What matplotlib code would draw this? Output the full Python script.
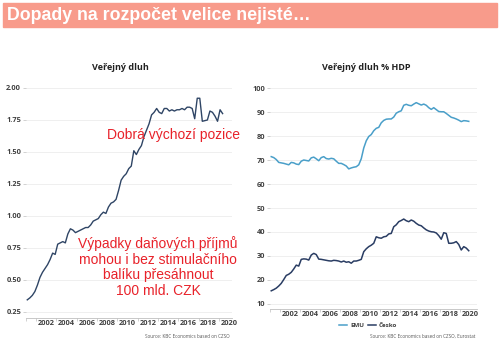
import numpy as np
import matplotlib.pyplot as plt
from matplotlib.patches import Rectangle

# Quarterly observations, 2000Q1 onwards (plotted at mid-quarter)
dluh_bil = [0.345, 0.36, 0.38, 0.41,
            0.46, 0.52, 0.56, 0.59,
            0.62, 0.66, 0.71, 0.70,
            0.78, 0.79, 0.80, 0.79,
            0.86, 0.90, 0.89, 0.87,
            0.88, 0.89, 0.90, 0.91,
            0.91, 0.93, 0.96, 0.97,
            0.98, 1.01, 1.03, 1.02,
            1.07, 1.10, 1.11, 1.13,
            1.20, 1.28, 1.31, 1.33,
            1.37, 1.39, 1.51, 1.48,
            1.52, 1.55, 1.62, 1.67,
            1.72, 1.79, 1.81, 1.84,
            1.81, 1.80, 1.84, 1.84,
            1.82, 1.83, 1.82, 1.83,
            1.83, 1.84, 1.83, 1.85,
            1.85, 1.84, 1.76, 1.92,
            1.92, 1.74, 1.745, 1.75,
            1.82, 1.81, 1.78, 1.74,
            1.83, 1.80]

emu = [71.4, 71.0, 70.2, 69.0,
       68.8, 68.6, 68.3, 68.0,
       69.0, 68.8, 68.3, 68.1,
       69.5, 70.0, 69.8, 69.6,
       70.9, 71.2, 70.5, 69.7,
       71.0, 71.4, 70.6, 70.4,
       70.7, 70.5, 69.5, 68.6,
       68.6, 68.1, 67.5, 66.3,
       66.7, 67.0, 67.2, 68.0,
       70.5, 75.0, 78.0, 79.8,
       80.6, 82.2, 83.2, 83.6,
       85.5, 86.5, 87.0, 87.1,
       87.1, 87.9, 89.5, 90.1,
       90.5, 92.8, 93.2, 92.8,
       92.6, 93.3, 93.9, 93.4,
       92.9, 93.3, 92.8, 91.8,
       91.1, 91.8, 91.0, 90.2,
       90.1, 90.1, 89.4, 88.6,
       87.8, 87.5, 87.1, 86.6,
       86.0, 86.4, 86.3, 86.1]

cesko = [15.5, 16.0, 16.6, 17.5,
         18.6, 20.2, 21.9, 22.4,
         23.2, 24.6, 26.2, 25.8,
         28.6, 28.8, 28.7, 28.3,
         30.4, 31.1, 30.6, 28.7,
         28.6, 28.4, 28.2, 28.0,
         27.9, 28.2, 28.1, 27.9,
         27.5, 27.9, 27.4, 27.6,
         27.0, 27.9, 27.9, 28.2,
         28.6, 31.8, 33.0, 33.9,
         34.5, 35.3, 38.0, 37.6,
         37.4, 38.0, 38.2, 39.2,
         39.4, 42.2, 43.0, 44.3,
         44.8, 45.4, 44.7, 44.3,
         45.0, 44.5, 43.6, 42.9,
         42.6, 41.7, 40.9, 40.4,
         40.1, 40.0, 39.6, 38.5,
         37.0, 39.7, 39.4, 35.3,
         35.3, 35.5, 36.0, 34.8,
         32.5, 33.9, 33.3, 32.2]

roky = list(range(2002, 2021, 2))
left_yticks = [0.25, 0.50, 0.75, 1.00, 1.25, 1.50, 1.75, 2.00]
right_yticks = [10, 20, 30, 40, 50, 60, 70, 80, 90, 100]

q_left = 2000.125 + 0.25 * np.arange(len(dluh_bil))
q_right = 2000.125 + 0.25 * np.arange(len(emu))

tick_font = 'Open Sans'
red = '#E8222A'

fig = plt.figure(figsize=(5, 3.41), dpi=100)

# header bar
fig.patches.append(Rectangle((3 / 500, 1 - 27 / 341), 494 / 500, 24 / 341,
                             transform=fig.transFigure, color='#F89B8B', zorder=0))
fig.text(7 / 500, 1 - 15.5 / 341, 'Dopady na rozpočet velice nejisté…', color='white',
         fontsize=12.8, fontweight='bold', family='Liberation Sans', va='center', ha='left')


def style_axes(ax, yticks, fmt):
    ax.set_yticks(yticks)
    ax.set_yticklabels([fmt.format(v) for v in yticks])
    ax.set_xticks(roky)
    ax.set_xticks(range(2000, 2021), minor=True)
    for s in ['top', 'right', 'left']:
        ax.spines[s].set_visible(False)
    ax.spines['bottom'].set_color('#BFBFBF')
    ax.spines['bottom'].set_linewidth(0.6)
    ax.grid(axis='y', color='#EDEDED', linewidth=0.6)
    ax.set_axisbelow(True)
    ax.tick_params(axis='y', length=2, width=0.5, color='#BFBFBF', pad=1.5)
    ax.tick_params(axis='x', which='both', length=2, width=0.5, color='#BFBFBF', pad=1.5)
    ax.tick_params(axis='x', which='major', length=0)
    for lab in ax.get_xticklabels() + ax.get_yticklabels():
        lab.set_family(tick_font)
        lab.set_fontsize(5.3)
        lab.set_fontweight('bold')
        lab.set_color('#404040')


# left: debt in CZK trillions
ax1 = fig.add_axes([26 / 500, 1 - 318.4 / 341, 206 / 500, 236.8 / 341])
ax1.plot(q_left, dluh_bil, color='#2F4565', lw=1.0)
ax1.set_xlim(2000, 2020.3)
ax1.set_ylim(0.20, 2.05)
style_axes(ax1, left_yticks, '{:.2f}')

# right: debt as % of GDP
ax2 = fig.add_axes([270 / 500, 1 - 308.8 / 341, 207 / 500, 223.2 / 341])
ax2.plot(q_right, emu, color='#4A9FC9', lw=1.1, label='EMU')
ax2.plot(q_right, cesko, color='#2A3D63', lw=1.1, label='Česko')
ax2.set_xlim(2000, 2020.7)
ax2.set_ylim(8, 101)
style_axes(ax2, right_yticks, '{:d}')

fig.text(120 / 500, 1 - 67 / 341, 'Veřejný dluh', ha='center', va='center',
         family=tick_font, fontsize=6.5, fontweight='bold', color='#222222')
fig.text(366 / 500, 1 - 67 / 341, 'Veřejný dluh % HDP', ha='center', va='center',
         family=tick_font, fontsize=6.5, fontweight='bold', color='#222222')

leg = fig.legend(loc='center', bbox_to_anchor=(368 / 500, 1 - 325 / 341), ncol=2,
                 frameon=False, handlelength=1.4, handletextpad=0.4, columnspacing=0.6,
                 prop={'family': tick_font, 'size': 4.5, 'weight': 'bold'})
for t in leg.get_texts():
    t.set_color('#404040')

fig.text(230 / 500, 1 - 336 / 341, 'Source: KBC Economics based on CZSO', ha='right',
         va='center', family=tick_font, fontsize=3.3, color='#555555')
fig.text(475 / 500, 1 - 336 / 341, 'Source: KBC Economics based on CZSO, Eurostat', ha='right',
         va='center', family=tick_font, fontsize=3.3, color='#555555')

# comments in red
fig.text(107 / 500, 1 - 135 / 341, 'Dobrá výchozí pozice', ha='left', va='center',
         family='Liberation Sans', fontsize=10, color=red)
fig.text(158 / 500, 1 - 267 / 341,
         'Výpadky daňových příjmů\nmohou i bez stimulačního\nbalíku přesáhnout\n100 mld. CZK',
         ha='center', va='center', multialignment='center', linespacing=1.18,
         family='Liberation Sans', fontsize=10, color=red)

fig.savefig('out.png', dpi=100)
